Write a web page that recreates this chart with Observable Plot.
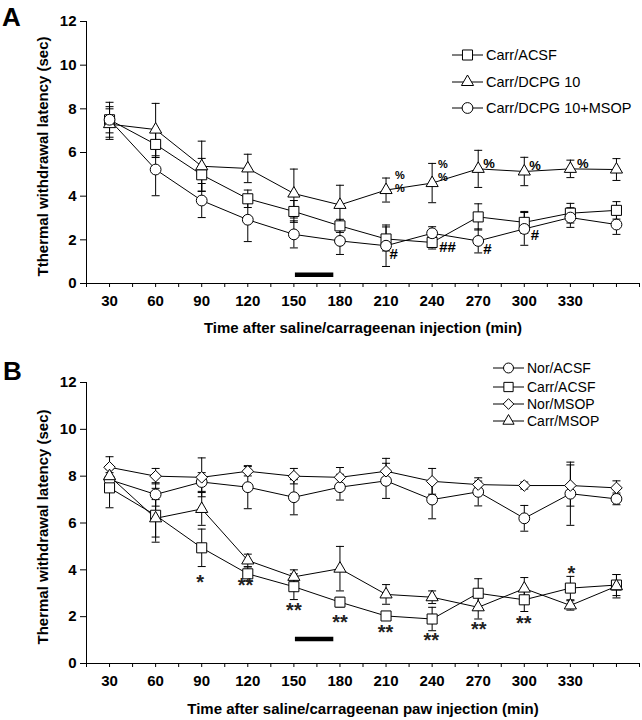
<!DOCTYPE html>
<html>
<head>
<meta charset="utf-8">
<script src="https://cdn.jsdelivr.net/npm/d3@7"></script>
<script src="https://cdn.jsdelivr.net/npm/@observablehq/plot@0.6"></script>
<style>
  html, body { margin: 0; padding: 0; background: #fff; }
  #wrap { position: relative; width: 642px; height: 720px; overflow: hidden; font-family: "Liberation Sans", Arial, sans-serif; }
  .panel { position: absolute; left: 0; }
  .legend { position: absolute; }
  .legend .row { position: absolute; left: 0; display: flex; align-items: center; white-space: nowrap; color: #000; }
  .legend svg { display: block; }
</style>
</head>
<body>
<div id="wrap"></div>
<script>
// ---------------- DATA ----------------
const times = [30, 60, 90, 120, 150, 180, 210, 240, 270, 300, 330, 360];
const xTickMarks = [15, 30, 45, 60, 75, 90, 105, 120, 135, 150, 165, 180, 195, 210, 225, 240, 255, 270, 285, 300, 315, 330, 345, 360, 375];
const xTickLabels = [30, 60, 90, 120, 150, 180, 210, 240, 270, 300, 330];
const yTicks = [0, 2, 4, 6, 8, 10, 12];

// Panel A
const aNames = ["Carr/ACSF", "Carr/DCPG 10", "Carr/DCPG 10+MSOP"];
const aCarrACSF = [7.5, 6.37, 4.98, 3.88, 3.3, 2.64, 2.04, 1.88, 3.05, 2.8, 3.22, 3.35];
const aCarrACSFErr = [0.6, 0.6, 0.75, 0.4, 0.5, 0.3, 0.55, 0.3, 0.6, 0.5, 0.45, 0.4];
const aCarrDCPG = [7.3, 7.05, 5.37, 5.27, 4.12, 3.6, 4.28, 4.6, 5.25, 5.13, 5.25, 5.22];
const aCarrDCPGErr = [0.7, 1.2, 1.15, 0.65, 1.12, 0.9, 0.55, 0.9, 0.85, 0.65, 0.4, 0.5];
const aCarrDCPGMSOP = [7.5, 5.22, 3.8, 2.92, 2.25, 1.95, 1.73, 2.3, 1.95, 2.5, 3.02, 2.7];
const aCarrDCPGMSOPErr = [0.8, 1.2, 0.78, 1.0, 0.62, 0.62, 0.95, 0.3, 0.55, 0.75, 0.45, 0.45];
const aNoteText = ["%", "%", "%", "%", "%", "%", "%", "#", "##", "#", "#"];
const aNoteX = [219, 219, 247, 247, 277, 307, 338, 215, 250, 276, 307];
const aNoteY = [4.96, 4.36, 5.44, 4.84, 5.48, 5.37, 5.48, 1.36, 1.66, 1.59, 2.2];
const aNoteStacked = [true, true, true, true, false, false, false, false, false, false, false];
const aBar = {start: 151, end: 176, y: 0.4};

// Panel B
const bNames = ["Nor/ACSF", "Carr/ACSF", "Nor/MSOP", "Carr/MSOP"];
const bNorACSF = [7.85, 7.22, 7.75, 7.53, 7.1, 7.53, 7.8, 7.0, 7.33, 6.2, 7.25, 7.03];
const bNorACSFErr = [0.3, 0.5, 0.4, 0.92, 0.75, 0.55, 0.75, 0.82, 0.6, 0.55, 1.35, 0.25];
const bCarrACSF = [7.5, 6.33, 4.94, 3.83, 3.28, 2.62, 2.03, 1.9, 3.0, 2.72, 3.22, 3.35];
const bCarrACSFErr = [0.85, 1.15, 0.8, 0.3, 0.55, 0.2, 0.15, 0.5, 0.62, 0.5, 0.5, 0.45];
const bNorMSOP = [8.38, 8.0, 7.95, 8.21, 8.0, 7.95, 8.21, 7.78, 7.64, 7.6, 7.6, 7.5];
const bNorMSOPErr = [0.45, 0.33, 0.83, 0.2, 0.33, 0.42, 0.55, 0.55, 0.15, 0.15, 0.88, 0.3];
const bCarrMSOP = [8.0, 6.2, 6.6, 4.4, 3.7, 4.05, 2.95, 2.83, 2.4, 3.2, 2.48, 3.3];
const bCarrMSOPErr = [0.3, 0.8, 0.7, 0.27, 0.3, 0.95, 0.42, 0.27, 0.5, 0.47, 0.2, 0.5];
const bNoteText = ["*", "**", "**", "**", "**", "**", "**", "**", "*"];
const bNoteX = [89, 118.5, 150, 180, 209.7, 239.4, 270.4, 299.7, 330.7];
const bNoteY = [3.68, 3.54, 2.48, 1.98, 1.55, 1.2, 1.65, 1.93, 4.04];
const bBar = {start: 151, end: 176, y: 1.05};

// ---------------- STYLE ----------------
const FONT = "Liberation Sans, Arial, sans-serif";
const symbolStyle = {
  square: {symbol: "square2", d3: d3.symbolSquare2, r: 6.4},
  triangle: {symbol: "triangle2", d3: d3.symbolTriangle2, r: 5.8},
  circle: {symbol: "circle", d3: d3.symbolCircle, r: 5.4},
  diamond: {symbol: "diamond2", d3: d3.symbolDiamond2, r: 5.2}
};
const capSymbol = {
  draw(context, size) {
    const w = Math.sqrt(size / Math.PI);
    context.moveTo(-w, 0);
    context.lineTo(w, 0);
  }
};

function makeRows(name, vals, errs) {
  return times.map((t, i) => ({name, t, v: vals[i], e: errs[i]}));
}

function buildPanel(cfg) {
  const marks = [
    Plot.ruleY([0], {stroke: "black", strokeWidth: 1}),
    Plot.ruleX([15], {stroke: "black", strokeWidth: 1}),
    Plot.axisY({ticks: yTicks, tickSize: 6, tickPadding: 4, fontSize: 15, fontWeight: "bold", fontFamily: FONT, label: null, tickFormat: d => d}),
    Plot.axisX({ticks: xTickMarks, tickSize: 4, tickPadding: 8, fontSize: 15, fontWeight: "bold", fontFamily: FONT, label: null,
      tickFormat: d => xTickLabels.includes(d) ? String(d) : ""}),
    Plot.text([cfg.xTitle], {text: d => d, frameAnchor: "bottom", textAnchor: "middle", lineAnchor: "middle", dy: cfg.xTitleDy, fontSize: 15, fontWeight: "bold", fontFamily: FONT}),
    Plot.text([cfg.yTitle], {text: d => d, frameAnchor: "left", textAnchor: "middle", lineAnchor: "middle", rotate: -90, dx: -43, dy: cfg.yTitleDy, fontSize: 15, fontWeight: "bold", fontFamily: FONT}),
    Plot.text([cfg.label], {text: d => d, frameAnchor: "top-left", textAnchor: "middle", lineAnchor: "middle", dx: cfg.labelDx, dy: cfg.labelDy, fontSize: 26, fontWeight: "bold", fontFamily: FONT}),
    Plot.ruleY([cfg.bar], {x1: d => d.start, x2: d => d.end, y: d => d.y, stroke: "black", strokeWidth: 4.5})
  ];
  for (const s of cfg.series) {
    marks.push(Plot.line(s.rows, {x: "t", y: "v", stroke: "black", strokeWidth: 1}));
  }
  for (const s of cfg.series) {
    marks.push(Plot.ruleX(s.rows, {x: "t", y1: d => d.v - d.e, y2: d => d.v + d.e, stroke: "black", strokeWidth: 1}));
    marks.push(Plot.dot(s.rows, {x: "t", y: d => d.v + d.e, symbol: capSymbol, r: 4, fill: "none", stroke: "black", strokeWidth: 1}));
    marks.push(Plot.dot(s.rows, {x: "t", y: d => d.v - d.e, symbol: capSymbol, r: 4, fill: "none", stroke: "black", strokeWidth: 1}));
  }
  for (const s of cfg.series) {
    const st = symbolStyle[s.shape];
    marks.push(Plot.dot(s.rows, {x: "t", y: "v", symbol: st.symbol, r: st.r, fill: "white", stroke: "black", strokeWidth: 1}));
  }
  marks.push(Plot.text(cfg.notes, {x: "x", y: "y", text: "text", fontSize: cfg.noteSize, fontWeight: "bold", fontFamily: FONT, dy: cfg.noteDy, fill: cfg.noteFill, textAnchor: "middle", lineAnchor: "middle"}));

  return Plot.plot({
    width: 642,
    height: cfg.height,
    marginTop: cfg.marginTop,
    marginBottom: 57,
    marginLeft: 86,
    marginRight: 3,
    x: {type: "linear", domain: [15, 375]},
    y: {type: "linear", domain: [0, 12]},
    style: {fontFamily: FONT, color: "black", background: "white", overflow: "visible"},
    marks
  });
}

function buildLegend(entries, opts) {
  const div = document.createElement("div");
  div.className = "legend";
  div.style.left = opts.left + "px";
  div.style.top = "0px";
  entries.forEach((en, i) => {
    const row = document.createElement("div");
    row.className = "row";
    row.style.top = (opts.centers[i] - 9) + "px";
    row.style.height = "18px";
    row.style.fontSize = opts.fontSize + "px";
    const st = symbolStyle[en.shape];
    const svg = d3.create("svg").attr("width", opts.lineW).attr("height", 18);
    svg.append("line").attr("x1", 0).attr("x2", opts.lineW).attr("y1", 9).attr("y2", 9).attr("stroke", "black").attr("stroke-width", 1);
    svg.append("path")
      .attr("transform", `translate(${opts.lineW / 2},9)`)
      .attr("d", d3.symbol().type(st.d3).size(Math.PI * st.r * st.r * opts.scale)())
      .attr("fill", "white").attr("stroke", "black").attr("stroke-width", 1);
    row.appendChild(svg.node());
    const span = document.createElement("span");
    span.textContent = en.name;
    span.style.marginLeft = opts.gap + "px";
    row.appendChild(span);
    div.appendChild(row);
  });
  return div;
}

const wrap = document.getElementById("wrap");

// Panel A
const aSeries = [
  {rows: makeRows(aNames[0], aCarrACSF, aCarrACSFErr), shape: "square"},
  {rows: makeRows(aNames[1], aCarrDCPG, aCarrDCPGErr), shape: "triangle"},
  {rows: makeRows(aNames[2], aCarrDCPGMSOP, aCarrDCPGMSOPErr), shape: "circle"}
];
const aNotes = aNoteText.map((text, i) => ({text, x: aNoteX[i], y: aNoteY[i], stacked: aNoteStacked[i]}));
const plotA = buildPanel({
  height: 340, marginTop: 21,
  xTitle: "Time after saline/carrageenan injection (min)", xTitleDy: 45,
  yTitle: "Tthermal withdrawal latency (sec)", yTitleDy: 4,
  label: "A", labelDx: -75, labelDy: -4,
  bar: aBar, series: aSeries, notes: aNotes,
  noteSize: d => d.text === "%" ? (d.stacked ? 11 : 13) : 15, noteDy: 0, noteFill: "black"
});
const divA = document.createElement("div");
divA.className = "panel"; divA.style.top = "0px";
divA.appendChild(plotA);
wrap.appendChild(divA);

// Panel B
const bSeries = [
  {rows: makeRows(bNames[0], bNorACSF, bNorACSFErr), shape: "circle"},
  {rows: makeRows(bNames[1], bCarrACSF, bCarrACSFErr), shape: "square"},
  {rows: makeRows(bNames[2], bNorMSOP, bNorMSOPErr), shape: "diamond"},
  {rows: makeRows(bNames[3], bCarrMSOP, bCarrMSOPErr), shape: "triangle"}
];
const bNotes = bNoteText.map((text, i) => ({text, x: bNoteX[i], y: bNoteY[i]}));
const plotB = buildPanel({
  height: 380, marginTop: 42,
  xTitle: "Time after saline/carrageenan paw injection (min)", xTitleDy: 46,
  yTitle: "Thermal withdrawal latency (sec)", yTitleDy: 4,
  label: "B", labelDx: -74, labelDy: -11,
  bar: bBar, series: bSeries, notes: bNotes, noteSize: 20, noteDy: 5, noteFill: "#222"
});
const divB = document.createElement("div");
divB.className = "panel"; divB.style.top = "340px";
divB.appendChild(plotB);
wrap.appendChild(divB);

// Legends
wrap.appendChild(buildLegend(
  aNames.map((name, i) => ({name, shape: aSeries[i].shape})),
  {left: 452, centers: [55, 82, 108], lineW: 31, gap: 3, fontSize: 14.5, scale: 1}
));
wrap.appendChild(buildLegend(
  bNames.map((name, i) => ({name, shape: bSeries[i].shape})),
  {left: 493, centers: [368, 387, 404, 421], lineW: 31, gap: 3, fontSize: 14, scale: 0.85}
));
</script>
</body>
</html>
